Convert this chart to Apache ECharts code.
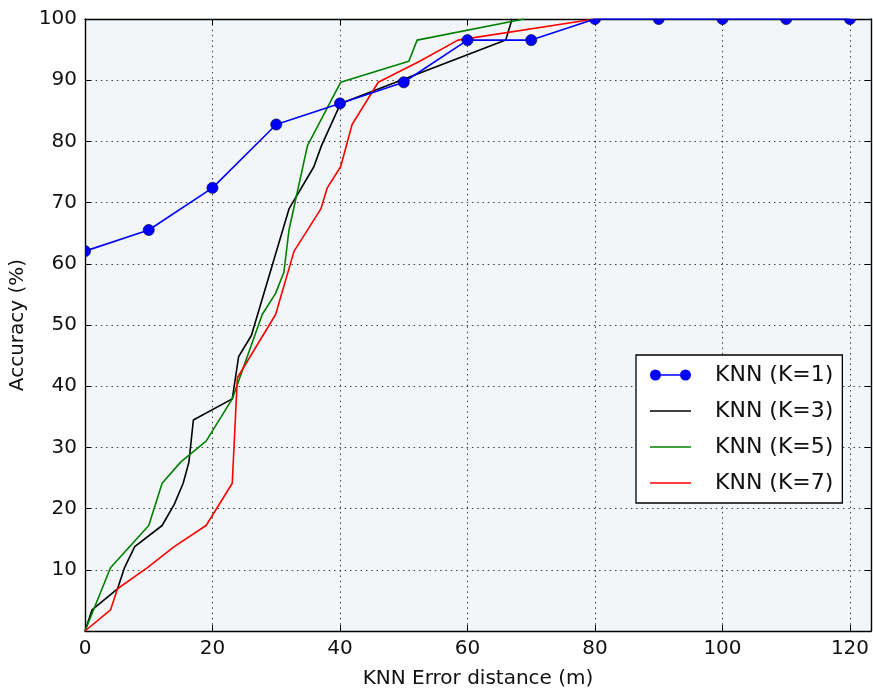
<!DOCTYPE html>
<html>
<head>
<meta charset="utf-8">
<script src="https://cdn.jsdelivr.net/npm/echarts@6/dist/echarts.min.js"></script>
<style>
  html, body { margin: 0; padding: 0; background: #ffffff; }
  #chart { width: 873px; height: 691px; }
</style>
</head>
<body>
<div id="chart"></div>
<script>
// Cumulative accuracy of KNN positioning vs. error distance (m)
const seriesNames = ['KNN (K=1)', 'KNN (K=3)', 'KNN (K=5)', 'KNN (K=7)'];

// K=1: sampled every 10 m
const distK1 = [0, 10, 20, 30, 40, 50, 60, 70, 80, 90, 100, 110, 120];
const accK1  = [62.07, 65.52, 72.41, 82.76, 86.21, 89.66, 96.55, 96.55, 100, 100, 100, 100, 100];

// K=3
const distK3 = [0, 1.1, 5.1, 6.2, 7.8, 12.1, 14.0, 15.4, 16.3, 17.0, 23.1, 23.6, 24.1, 26.1, 32.0, 35.9, 37.1, 40.1, 66.0, 67.0];
const accK3  = [0, 3.45, 6.9, 10.34, 13.79, 17.24, 20.69, 24.14, 27.59, 34.48, 37.93, 41.38, 44.83, 48.28, 68.97, 75.86, 79.31, 86.21, 96.55, 100];

// K=5
const distK5 = [0, 4.0, 10.0, 12.1, 15.0, 19.0, 23.1, 27.8, 29.9, 31.2, 32.0, 34.9, 40.1, 50.8, 52.1, 68.9];
const accK5  = [0, 10.34, 17.24, 24.14, 27.59, 31.03, 37.93, 51.72, 55.17, 58.62, 65.52, 79.31, 89.66, 93.1, 96.55, 100];

// K=7
const distK7 = [0, 4.0, 5.1, 9.8, 14.0, 19.0, 23.1, 23.9, 29.9, 32.8, 37.0, 38.0, 40.1, 41.9, 46.0, 52.5, 58.5, 80.0];
const accK7  = [0, 3.45, 6.9, 10.34, 13.79, 17.24, 24.14, 41.38, 51.72, 62.07, 68.97, 72.41, 75.86, 82.76, 89.66, 93.1, 96.55, 100];

// Axis settings
const xMin = 0, xMax = 123.3, xStep = 20;
const yMin = 0, yMax = 100, yStep = 10;
const xTickLabels = ['0', '20', '40', '60', '80', '100', '120'];
const yTickLabels = ['10', '20', '30', '40', '50', '60', '70', '80', '90', '100'];

const zip = (xs, ys) => xs.map((x, i) => [x, ys[i]]);

const FONT = '"DejaVu Sans", "Bitstream Vera Sans", sans-serif';
const gridLine = { show: true, lineStyle: { color: '#000', width: 1, type: [1.5, 3.8], opacity: 0.75 } };
const frameLine = { show: true, onZero: false, lineStyle: { color: '#000', width: 1.4 } };
const innerTick = { show: true, inside: true, length: 6, lineStyle: { color: '#000', width: 1 } };

// legend glyphs: line with end markers, and plain thin lines
const markerLineIcon = 'path://M0,6A5.5,5.5,0,1,1,11,6A5.5,5.5,0,1,1,0,6ZM30,6A5.5,5.5,0,1,1,41,6A5.5,5.5,0,1,1,30,6ZM11,5.3L30,5.3L30,6.7L11,6.7Z';
const plainLineIcon = 'path://M0,0L41,0L41,1.6L0,1.6Z';
const MARKER_R = 5.5;

const chart = echarts.init(document.getElementById('chart'), null, { renderer: 'canvas' });

const option = {
  backgroundColor: '#ffffff',
  animation: false,
  textStyle: { fontFamily: FONT },
  grid: {
    left: 85, top: 19, right: 2, bottom: 60,
    show: true, backgroundColor: '#f2f6f8', borderWidth: 0,
    containLabel: false, outerBoundsMode: 'none'
  },
  xAxis: [
    {
      type: 'value', position: 'bottom', min: xMin, max: xMax, interval: xStep,
      name: 'KNN Error distance (m)', nameLocation: 'middle', nameGap: 38,
      nameTextStyle: { fontSize: 20, color: '#111', fontFamily: FONT },
      axisLine: frameLine, axisTick: innerTick, splitLine: gridLine,
      axisLabel: {
        fontSize: 20, color: '#111', margin: 8, fontFamily: FONT,
        formatter: v => (xTickLabels.indexOf(String(v)) >= 0 ? String(v) : '')
      }
    },
    {
      type: 'value', position: 'top', min: xMin, max: xMax, interval: xStep,
      axisLine: frameLine, axisTick: innerTick, splitLine: { show: false },
      axisLabel: { show: false }
    }
  ],
  yAxis: [
    {
      type: 'value', position: 'left', min: yMin, max: yMax, interval: yStep,
      name: 'Accuracy (%)', nameLocation: 'middle', nameGap: 51, nameRotate: 90,
      nameTextStyle: { fontSize: 20, color: '#111', fontFamily: FONT },
      axisLine: frameLine, axisTick: innerTick, splitLine: gridLine,
      axisLabel: {
        fontSize: 20, color: '#111', margin: 8, fontFamily: FONT,
        formatter: v => (yTickLabels.indexOf(String(v)) >= 0 ? String(v) : '')
      }
    },
    {
      type: 'value', position: 'right', min: yMin, max: yMax, interval: yStep,
      axisLine: frameLine, axisTick: innerTick, splitLine: { show: false },
      axisLabel: { show: false }
    }
  ],
  legend: {
    orient: 'vertical', left: 636, top: 355,
    padding: [8, 9, 8, 14],
    backgroundColor: '#ffffff', borderColor: '#000', borderWidth: 1.3, borderRadius: 0,
    itemWidth: 41, itemHeight: 12, itemGap: 12,
    textStyle: { fontSize: 22, color: '#111', fontFamily: FONT, lineHeight: 24, padding: [0, 0, 0, 19] },
    data: [
      { name: seriesNames[0], icon: markerLineIcon },
      { name: seriesNames[1], icon: plainLineIcon },
      { name: seriesNames[2], icon: plainLineIcon },
      { name: seriesNames[3], icon: plainLineIcon }
    ]
  },
  series: [
    {
      name: seriesNames[0], type: 'line', data: zip(distK1, accK1),
      showSymbol: false, symbol: 'none', clip: true,
      color: '#0000ff', lineStyle: { color: '#0000ff', width: 1.6 }, z: 5
    },
    {
      name: seriesNames[1], type: 'line', data: zip(distK3, accK3),
      symbol: 'none', clip: true,
      color: '#000000', lineStyle: { color: '#000000', width: 1.6 }, z: 3
    },
    {
      name: seriesNames[2], type: 'line', data: zip(distK5, accK5),
      symbol: 'none', clip: true,
      color: '#008000', lineStyle: { color: '#008000', width: 1.6 }, z: 3
    },
    {
      name: seriesNames[3], type: 'line', data: zip(distK7, accK7),
      symbol: 'none', clip: true,
      color: '#ff0000', lineStyle: { color: '#ff0000', width: 1.6 }, z: 4
    },
    {
      // round markers for K=1, trimmed to the plotting area
      name: seriesNames[0], type: 'custom', data: zip(distK1, accK1), clip: true, z: 6,
      encode: { x: 0, y: 1 },
      renderItem: (params, api) => {
        const p = api.coord([api.value(0), api.value(1)]);
        const cs = params.coordSys;
        const x0 = cs.x, x1 = cs.x + cs.width, y0 = cs.y, y1 = cs.y + cs.height;
        const pts = [];
        const n = 48;
        for (let i = 0; i < n; i++) {
          const a = (i / n) * Math.PI * 2;
          const px = Math.min(Math.max(p[0] + MARKER_R * Math.cos(a), x0), x1);
          const py = Math.min(Math.max(p[1] + MARKER_R * Math.sin(a), y0), y1);
          pts.push([px, py]);
        }
        return {
          type: 'polygon',
          shape: { points: pts },
          style: { fill: '#0000ff', stroke: '#000033', lineWidth: 0.7 }
        };
      }
    }
  ]
};

chart.setOption(option);
</script>
</body>
</html>
